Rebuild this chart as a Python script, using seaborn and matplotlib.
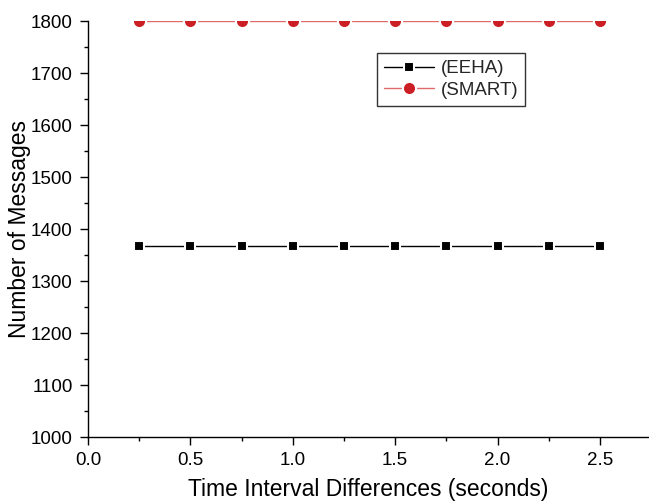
import matplotlib
matplotlib.use("Agg")
import matplotlib.pyplot as plt
import pandas as pd
import seaborn as sns
from matplotlib.lines import Line2D
from matplotlib.ticker import MultipleLocator

intervals = [0.25, 0.5, 0.75, 1.0, 1.25, 1.5, 1.75, 2.0, 2.25, 2.5]
eeha = [1368] * 10
smart = [1800] * 10

sns.set_theme(style="ticks")
plt.rcParams['font.family'] = ['Liberation Sans', 'DejaVu Sans']

fig = plt.figure(figsize=(6.49, 5.01), dpi=100)
ax = fig.add_axes([0.1356, 0.1277, 0.8629, 0.8303])

dat = pd.DataFrame({'x': intervals, 'EEHA': eeha, 'SMART': smart})

red_line = '#e06a6a'
red_mark = '#cc1f25'

# lines first, then markers as scatter so the ones on the top edge get clipped
sns.lineplot(data=dat, x='x', y='EEHA', ax=ax, color='black', lw=1)
sns.lineplot(data=dat, x='x', y='SMART', ax=ax, color=red_line, lw=1)
# white marker edge gives the little gap between line and marker
sns.scatterplot(data=dat, x='x', y='EEHA', ax=ax, marker='s', s=49, color='black',
                edgecolor='white', linewidth=1.5, zorder=3)
sns.scatterplot(data=dat, x='x', y='SMART', ax=ax, marker='o', s=90, color=red_mark,
                edgecolor='white', linewidth=1.5, zorder=3)

ax.set_xlim(0, 2.735)
ax.set_ylim(1000, 1800)
ax.xaxis.set_major_locator(MultipleLocator(0.5))
ax.xaxis.set_minor_locator(MultipleLocator(0.25))
ax.yaxis.set_major_locator(MultipleLocator(100))
ax.yaxis.set_minor_locator(MultipleLocator(50))
ax.tick_params(which='major', direction='out', length=6, width=1,
               labelsize=13.5, colors='black', pad=5)
ax.tick_params(which='minor', direction='out', length=3, width=1, colors='black')
for s in ['top', 'right']:
    ax.spines[s].set_visible(False)
for s in ['left', 'bottom']:
    ax.spines[s].set_color('black')
    ax.spines[s].set_linewidth(1)

ax.set_xlabel('Time Interval Differences (seconds)', fontsize=16.5, color='black', labelpad=6)
ax.set_ylabel('Number of Messages', fontsize=16.5, color='black', labelpad=0)

handles = [
    Line2D([], [], color='black', lw=1, marker='s', markersize=7,
           markerfacecolor='black', markeredgecolor='white', mew=1.5),
    Line2D([], [], color=red_line, lw=1, marker='o', markersize=9.5,
           markerfacecolor=red_mark, markeredgecolor='white', mew=1.5),
]
leg = ax.legend(handles, ['(EEHA)', '(SMART)'], loc='upper left',
                bbox_to_anchor=(0.516, 0.922), frameon=True,
                fancybox=False, edgecolor='black', fontsize=13.5,
                handlelength=2.7, handletextpad=0.35, borderpad=0.35,
                labelspacing=0.25, borderaxespad=0)
leg.get_frame().set_linewidth(1)

fig.savefig('out.png', dpi=100)
